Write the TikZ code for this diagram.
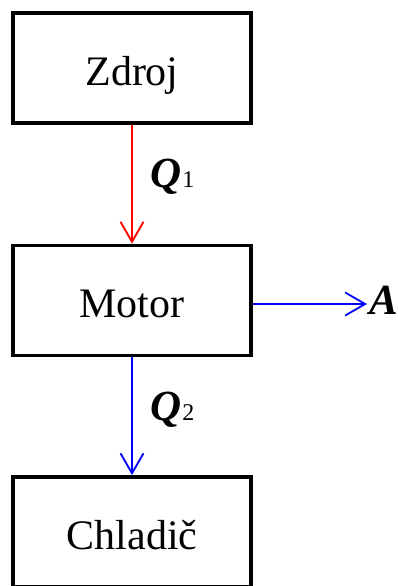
\documentclass[tikz,border=0pt]{standalone}
\usepackage{fontspec}
\setmainfont{Liberation Serif}
\usetikzlibrary{arrows.meta}
\begin{document}
\begin{tikzpicture}[x=1pt,y=-1pt,
  block/.style={draw=black, line width=3.8pt, minimum width=238pt, minimum height=110pt,
    inner sep=0pt, text height=36pt, text depth=2pt, font=\fontsize{42}{42}\selectfont},
  flowtip/.style={-{Straight Barb[length=20pt,width=23pt]}},
  qlabel/.style={inner sep=0pt, anchor=base west, font=\fontsize{43}{43}\selectfont\bfseries\itshape}]
\useasboundingbox (0,0) rectangle (398,586);
% the three blocks
\node[block] (zdroj) at (132,68) {Zdroj};
\node[block] (motor) at (132,300.5) {Motor};
\node[block] (chladic) at (132,532) {Chladič};
% heat flows
\draw[draw=red, line width=1.8pt, flowtip] (zdroj.south) -- (motor.north);
\draw[draw=blue, line width=1.8pt, flowtip] (motor.south) -- (chladic.north);
% work output
\coordinate (worktip) at (367,304);
\draw[draw=blue, line width=1.8pt, flowtip] ([yshift=-3.5pt]motor.east) -- (worktip);
\node[qlabel] (work) at (369,314) {A};
% labels
\node[qlabel] (q1) at (150,187) {Q\kern1pt{\fontsize{24}{24}\selectfont\mdseries\upshape 1}};
\node[qlabel] (q2) at (150,420) {Q\kern1pt{\fontsize{24}{24}\selectfont\mdseries\upshape 2}};
\end{tikzpicture}
\end{document}
